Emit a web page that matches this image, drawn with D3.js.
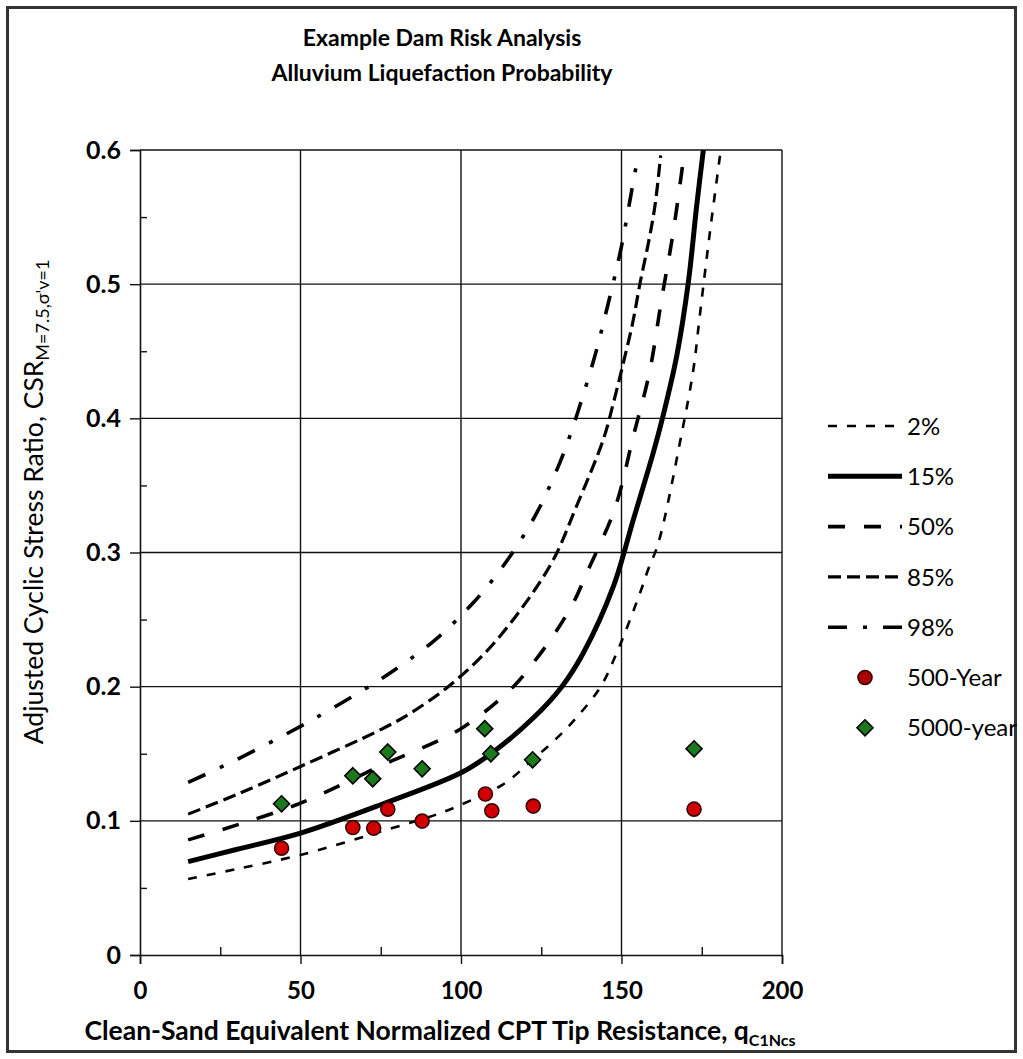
<!DOCTYPE html>
<html>
<head>
<meta charset="utf-8">
<script src="https://cdn.jsdelivr.net/npm/d3@7"></script>
<style>
  html, body { margin: 0; padding: 0; background: #fff; }
  svg { display: block; }
  text { font-family: Lato, "Open Sans", sans-serif; fill: #000; }
</style>
</head>
<body>
<svg id="chart" width="1023" height="1059"></svg>
<script>
// ---------------- DATA ----------------
const titleLines = ["Example Dam Risk Analysis", "Alluvium Liquefaction Probability"];
const xTicks = [0, 50, 100, 150, 200];
const xMinorTicks = [25, 75, 125, 175];
const yTicks = [0, 0.1, 0.2, 0.3, 0.4, 0.5, 0.6];
const yMinorTicks = [0.05, 0.15, 0.25, 0.35, 0.45, 0.55];

// probability curves: [qc1Ncs, CSR]
const curve2 = [[15,0.0567],[30,0.064],[50,0.0746],[75,0.092],[93.5,0.1057],[100,0.112],[113,0.127],[122.3,0.1455],[130,0.162],[136,0.177],[143.5,0.2],[148.5,0.2251],[155.8,0.27],[158.3,0.2873],[161.5,0.3072],[168.7,0.388],[172.4,0.4366],[174.2,0.4726],[176,0.5087],[177.8,0.5435],[180.7,0.596]];
const curve15 = [[15,0.0696],[30,0.0786],[50,0.0908],[75,0.112],[100,0.1358],[109.3,0.150],[122.5,0.1766],[131.4,0.2],[138.1,0.2251],[147.5,0.2749],[153.7,0.3246],[159.9,0.3744],[162.8,0.4005],[167.2,0.4465],[170.8,0.501],[173.4,0.558],[175.5,0.6]];
const curve50 = [[15,0.0858],[30,0.0968],[50,0.1132],[75,0.141],[100,0.1687],[116.3,0.2],[122.5,0.2177],[129.3,0.24],[135,0.2625],[139.2,0.2848],[148,0.3333],[153.7,0.3868],[158.7,0.4341],[162.5,0.4888],[166.1,0.5386],[169.5,0.597]];
const curve85 = [[15,0.105],[30,0.1195],[50,0.1405],[75,0.168],[84.1,0.180],[96,0.2],[108,0.2264],[119.4,0.26],[128.8,0.2948],[136,0.3346],[144.3,0.384],[147.5,0.4117],[150.6,0.4416],[153.5,0.4714],[155.8,0.501],[158.4,0.531],[160.4,0.558],[162.2,0.596]];
const curve98 = [[15,0.1286],[30,0.1455],[50,0.1704],[55.5,0.1778],[70.6,0.199],[77.9,0.2102],[91.4,0.2338],[103.8,0.2625],[114.2,0.2935],[123.6,0.3296],[130.8,0.367],[133.9,0.3868],[136.5,0.4055],[141.7,0.4465],[145.9,0.486],[149.8,0.526],[152.9,0.566],[154.5,0.587]];

const curveNames = ["2%", "15%", "50%", "85%", "98%"];

// scatter series
const q500 = [44.1, 66.3, 72.8, 77.2, 87.9, 107.6, 109.6, 122.5, 172.6];
const csr500 = [0.0796, 0.095, 0.0945, 0.1087, 0.0998, 0.12, 0.1075, 0.111, 0.1087];
const q5000 = [44.1, 66.3, 72.5, 77.2, 87.9, 107.4, 109.3, 122.3, 172.6];
const csr5000 = [0.1127, 0.1336, 0.1313, 0.1513, 0.1388, 0.1687, 0.150, 0.1455, 0.1537];
const pointNames = ["500-Year", "5000-year"];

// ---------------- STYLES ----------------
const curveStyles = [
  { data: curve2,  width: 2.6, dash: "9,10" },
  { data: curve15, width: 5,   dash: null },
  { data: curve50, width: 3.6, dash: "17,19" },
  { data: curve85, width: 3.2, dash: "13,6" },
  { data: curve98, width: 3.6, dash: "19,16,4,16" }
];

const svg = d3.select("#chart");
const W = 1023, H = 1059;
const plot = { left: 140, right: 782, top: 150, bottom: 955 };

svg.append("rect").attr("x", 0).attr("y", 0).attr("width", W).attr("height", H).attr("fill", "#fff");
// outer frame
svg.append("rect").attr("x", 7.5).attr("y", 7.5).attr("width", 1008).attr("height", 1044)
  .attr("fill", "#fff").attr("stroke", "#333").attr("stroke-width", 3);

const x = d3.scaleLinear().domain([0, 200]).range([plot.left, plot.right]);
const y = d3.scaleLinear().domain([0, 0.6]).range([plot.bottom, plot.top]);

// gridlines
const grid = svg.append("g").attr("stroke", "#111").attr("stroke-width", 1.4);
grid.selectAll("line.h").data(yTicks.filter(d => d > 0)).join("line")
  .attr("x1", plot.left).attr("x2", plot.right)
  .attr("y1", d => y(d)).attr("y2", d => y(d));
grid.selectAll("line.v").data(xTicks.filter(d => d > 0)).join("line")
  .attr("y1", plot.top).attr("y2", plot.bottom)
  .attr("x1", d => x(d)).attr("x2", d => x(d));

// axes
const tickFont = size => g => g.selectAll("text")
  .style("font-family", "Lato, sans-serif").style("font-weight", "700")
  .style("font-size", size).attr("fill", "#000");

const yAxis = svg.append("g").attr("transform", `translate(${plot.left},0)`)
  .call(d3.axisLeft(y).tickValues(yTicks).tickSize(10).tickPadding(9)
    .tickFormat(d => d === 0 ? "0" : d3.format(".1f")(d)));
yAxis.select(".domain").attr("stroke", "#111").attr("stroke-width", 1.6);
yAxis.selectAll(".tick line").attr("stroke", "#111").attr("stroke-width", 1.4);
yAxis.call(tickFont("25px"));

const yMinor = svg.append("g").attr("transform", `translate(${plot.left},0)`)
  .call(d3.axisLeft(y).tickValues(yMinorTicks).tickSizeInner(-7).tickSizeOuter(0).tickFormat(""));
yMinor.select(".domain").remove();
yMinor.selectAll(".tick line").attr("stroke", "#111").attr("stroke-width", 1.4);

const xAxis = svg.append("g").attr("transform", `translate(0,${plot.bottom})`)
  .call(d3.axisBottom(x).tickValues(xTicks).tickSize(9).tickPadding(18).tickFormat(d3.format("d")));
xAxis.select(".domain").attr("stroke", "#111").attr("stroke-width", 1.6);
xAxis.selectAll(".tick line").attr("stroke", "#111").attr("stroke-width", 1.4);
xAxis.call(tickFont("24px"));

const xMinor = svg.append("g").attr("transform", `translate(0,${plot.bottom})`)
  .call(d3.axisBottom(x).tickValues(xMinorTicks).tickSizeInner(-8).tickSizeOuter(0).tickFormat(""));
xMinor.select(".domain").remove();
xMinor.selectAll(".tick line").attr("stroke", "#111").attr("stroke-width", 1.4);

// clip
svg.append("clipPath").attr("id", "plotClip").append("rect")
  .attr("x", plot.left).attr("y", plot.top - 2)
  .attr("width", plot.right - plot.left).attr("height", plot.bottom - plot.top + 2);

// curves
const line = d3.line().x(d => x(d[0])).y(d => y(d[1])).curve(d3.curveCatmullRom.alpha(0.5));
const curvesG = svg.append("g").attr("clip-path", "url(#plotClip)");
curveStyles.forEach(s => {
  curvesG.append("path").datum(s.data)
    .attr("d", line).attr("fill", "none").attr("stroke", "#000")
    .attr("stroke-width", s.width)
    .attr("stroke-dasharray", s.dash)
    .attr("stroke-linejoin", "round");
});

// markers
const diamond = "M0,-8L8,0L0,8L-8,0Z";
const ptsG = svg.append("g");
ptsG.selectAll("circle").data(q500.map((q, i) => [q, csr500[i]])).join("circle")
  .attr("cx", d => x(d[0])).attr("cy", d => y(d[1])).attr("r", 7)
  .attr("fill", "#d10000").attr("stroke", "#3a0000").attr("stroke-width", 1.6);
ptsG.selectAll("path").data(q5000.map((q, i) => [q, csr5000[i]])).join("path")
  .attr("d", diamond)
  .attr("transform", d => `translate(${x(d[0])},${y(d[1])})`)
  .attr("fill", "#1c7a1c").attr("stroke", "#000").attr("stroke-width", 1.6);

// legend
const legend = svg.append("g");
const legX1 = 828, legX2 = 902, legText = 907, legY0 = 426, legStep = 50.3;
curveStyles.forEach((s, i) => {
  const yy = legY0 + i * legStep;
  legend.append("line").attr("x1", legX1).attr("x2", legX2).attr("y1", yy).attr("y2", yy)
    .attr("stroke", "#000").attr("stroke-width", s.width).attr("stroke-dasharray", s.dash);
  legend.append("text").attr("x", legText).attr("y", yy).attr("dy", "0.36em")
    .style("font-size", "24px").text(curveNames[i]);
});
{
  const y5 = legY0 + 5 * legStep, y6 = legY0 + 6 * legStep;
  legend.append("circle").attr("cx", 865).attr("cy", y5).attr("r", 7)
    .attr("fill", "#aa0000").attr("stroke", "#3a0000").attr("stroke-width", 1.6);
  legend.append("text").attr("x", legText).attr("y", y5).attr("dy", "0.36em")
    .style("font-size", "24px").text(pointNames[0]);
  legend.append("path").attr("d", diamond).attr("transform", `translate(865,${y6})`)
    .attr("fill", "#1c7a1c").attr("stroke", "#000").attr("stroke-width", 1.6);
  legend.append("text").attr("x", legText).attr("y", y6).attr("dy", "0.36em")
    .style("font-size", "24px").text(pointNames[1]);
}

// title
svg.append("text").attr("x", 442).attr("y", 46).attr("text-anchor", "middle")
  .style("font-size", "23px").style("font-weight", "700").text(titleLines[0]);
svg.append("text").attr("x", 442).attr("y", 81).attr("text-anchor", "middle")
  .style("font-size", "23px").style("font-weight", "700").text(titleLines[1]);

// x axis title
const xt = svg.append("text").attr("x", 440).attr("y", 1040).attr("text-anchor", "middle")
  .style("font-size", "26.5px").style("font-weight", "700");
xt.append("tspan").text("Clean-Sand Equivalent Normalized  CPT Tip Resistance, q");
xt.append("tspan").attr("dy", 6).style("font-size", "16px").text("C1Ncs");

// y axis title
const yt = svg.append("text").attr("transform", "translate(43,502) rotate(-90)")
  .attr("text-anchor", "middle").style("font-size", "26.5px");
yt.append("tspan").text("Adjusted Cyclic Stress Ratio,  CSR");
yt.append("tspan").attr("dy", 6).style("font-size", "18px").text("M=7.5,σ'v=1");
</script>
</body>
</html>
